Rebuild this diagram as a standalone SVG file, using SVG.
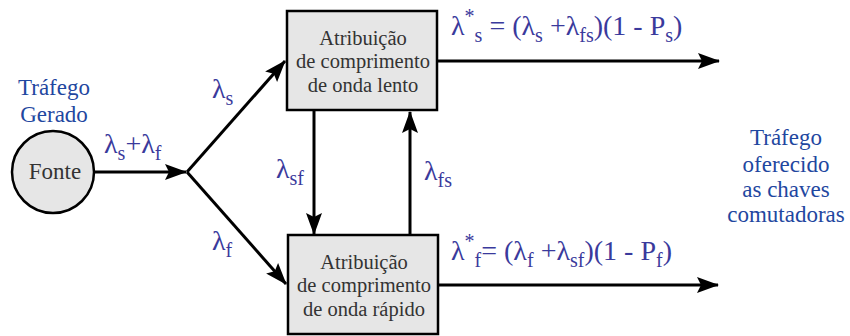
<svg xmlns="http://www.w3.org/2000/svg" width="850" height="336" viewBox="0 0 850 336">
<defs>
<marker id="ahb" markerWidth="22" markerHeight="16" refX="21" refY="8" orient="auto" markerUnits="userSpaceOnUse" viewBox="0 0 22 16">
<path d="M0,0 L22,8 L0,16 L4,8 Z" fill="#000"/>
</marker>
</defs>
<g id="connectors" stroke="#000" stroke-width="3" fill="none">
<line x1="94" y1="172" x2="186" y2="172" marker-end="url(#ahb)"/>
<line x1="187" y1="172" x2="285" y2="61" marker-end="url(#ahb)"/>
<line x1="187" y1="172" x2="286" y2="284" marker-end="url(#ahb)"/>
<line x1="314" y1="111" x2="314" y2="234" marker-end="url(#ahb)"/>
<line x1="410" y1="235" x2="410" y2="112" marker-end="url(#ahb)"/>
<line x1="437" y1="61" x2="719" y2="61" marker-end="url(#ahb)"/>
<line x1="438" y1="285" x2="718" y2="285" marker-end="url(#ahb)"/>
</g>
<g id="fonte">
<circle cx="53" cy="172" r="41" fill="#e6e6e6" stroke="#000" stroke-width="2.5"/>
<text x="55" y="179" font-family="Times New Roman, serif" font-size="23" fill="#333" text-anchor="middle">Fonte</text>
</g>
<g id="lento">
<rect x="287" y="11" width="150" height="99" fill="#e6e6e6" stroke="#000" stroke-width="2.5"/>
<text x="363" y="45" font-family="Times New Roman, serif" font-size="20.5" fill="#333" text-anchor="middle">Atribuição</text>
<text x="363" y="68" font-family="Times New Roman, serif" font-size="20.5" fill="#333" text-anchor="middle">de comprimento</text>
<text x="363" y="92" font-family="Times New Roman, serif" font-size="20.5" fill="#333" text-anchor="middle">de onda lento</text>
</g>
<g id="rapido">
<rect x="288" y="235" width="150" height="99" fill="#e6e6e6" stroke="#000" stroke-width="2.5"/>
<text x="364" y="269" font-family="Times New Roman, serif" font-size="20.5" fill="#333" text-anchor="middle">Atribuição</text>
<text x="364" y="292" font-family="Times New Roman, serif" font-size="20.5" fill="#333" text-anchor="middle">de comprimento</text>
<text x="364" y="316" font-family="Times New Roman, serif" font-size="20.5" fill="#333" text-anchor="middle">de onda rápido</text>
</g>
<g id="labels">
<text x="54" y="95" font-family="Times New Roman, serif" font-size="23" fill="#1f47a0" text-anchor="middle">Tráfego</text>
<text x="54" y="122" font-family="Times New Roman, serif" font-size="23" fill="#1f47a0" text-anchor="middle">Gerado</text>
<text x="786" y="145" font-family="Times New Roman, serif" font-size="23" fill="#1f47a0" text-anchor="middle">Tráfego</text>
<text x="786" y="172" font-family="Times New Roman, serif" font-size="23" fill="#1f47a0" text-anchor="middle">oferecido</text>
<text x="786" y="197" font-family="Times New Roman, serif" font-size="23" fill="#1f47a0" text-anchor="middle">as chaves</text>
<text x="786" y="222" font-family="Times New Roman, serif" font-size="23" fill="#1f47a0" text-anchor="middle">comutadoras</text>
<text x="104" y="153" font-family="Times New Roman, serif" font-size="28" fill="#3a3a9c">λ<tspan font-size="20" dy="7">s</tspan><tspan dy="-7">+λ</tspan><tspan font-size="20" dy="7">f</tspan></text>
<text x="212" y="98" font-family="Times New Roman, serif" font-size="28" fill="#3a3a9c">λ<tspan font-size="20" dy="7">s</tspan></text>
<text x="212" y="250" font-family="Times New Roman, serif" font-size="28" fill="#3a3a9c">λ<tspan font-size="20" dy="7">f</tspan></text>
<text x="276" y="178" font-family="Times New Roman, serif" font-size="28" fill="#3a3a9c">λ<tspan font-size="20" dy="7">sf</tspan></text>
<text x="424" y="180" font-family="Times New Roman, serif" font-size="28" fill="#3a3a9c">λ<tspan font-size="20" dy="7">fs</tspan></text>
<text x="451" y="35" font-family="Times New Roman, serif" font-size="28" fill="#3a3a9c">λ<tspan font-size="20" dy="-12">*</tspan><tspan font-size="20" dy="19">s</tspan><tspan dy="-7"> = (λ</tspan><tspan font-size="20" dy="7">s</tspan><tspan dy="-7"> +λ</tspan><tspan font-size="20" dy="7">fs</tspan><tspan dy="-7">)(1 - P</tspan><tspan font-size="20" dy="7">s</tspan><tspan dy="-7">)</tspan></text>
<text x="451" y="260" font-family="Times New Roman, serif" font-size="28" fill="#3a3a9c">λ<tspan font-size="20" dy="-12">*</tspan><tspan font-size="20" dy="19">f</tspan><tspan dy="-7">= (λ</tspan><tspan font-size="20" dy="7">f</tspan><tspan dy="-7"> +λ</tspan><tspan font-size="20" dy="7">sf</tspan><tspan dy="-7">)(1 - P</tspan><tspan font-size="20" dy="7">f</tspan><tspan dy="-7">)</tspan></text>
</g>
</svg>
